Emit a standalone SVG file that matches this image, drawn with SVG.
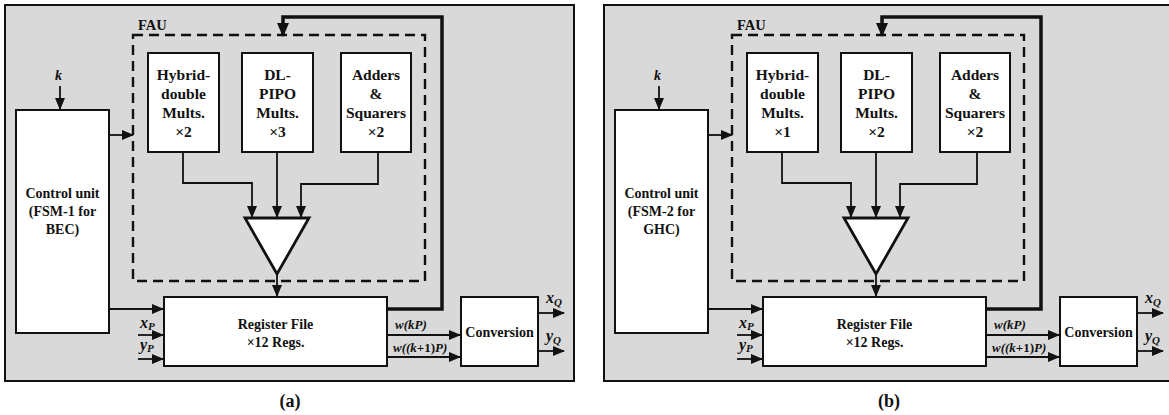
<svg xmlns="http://www.w3.org/2000/svg" width="1169" height="415" viewBox="0 0 1169 415">
<style>
.bg{fill:#d9d9d9;stroke:#111;stroke-width:2}
.box{fill:#fff;stroke:#111;stroke-width:2}
.fau{fill:none;stroke:#111;stroke-width:2.4;stroke-dasharray:10 6}
.ln{fill:none;stroke:#111;stroke-width:1.8}
.thick{fill:none;stroke:#111;stroke-width:3.5}
.t{font-family:"Liberation Serif","Times New Roman",serif;font-weight:bold;fill:#111}
.bl{font-size:15.5px;text-anchor:middle}
.cl{font-size:14px;text-anchor:middle}
.it{font-style:italic}
</style>
<defs>
<marker id="ah" markerUnits="userSpaceOnUse" markerWidth="12" markerHeight="10" refX="11" refY="5" orient="auto">
<path d="M0,0 L12,5 L0,10 z" fill="#111"/>
</marker>
<marker id="ahb" markerUnits="userSpaceOnUse" markerWidth="14" markerHeight="12" refX="13" refY="6" orient="auto">
<path d="M0,0 L14,6 L0,12 z" fill="#111"/>
</marker>
</defs>

<g id="panel-a">
<rect id="a-frame" class="bg" x="5" y="5" width="569" height="376"/>
<g id="a-fau"><rect class="fau" x="133" y="35" width="292" height="246"/><text class="t" x="138" y="30" font-size="14.5">FAU</text></g>
<g id="a-hybrid"><rect class="box" x="148" y="53" width="71" height="99"/>
<text class="t bl" x="183.5" y="80">Hybrid-</text><text class="t bl" x="183.5" y="99">double</text><text class="t bl" x="183.5" y="118">Mults.</text><text class="t bl" x="183.5" y="137">×2</text></g>
<g id="a-dlpipo"><rect class="box" x="242" y="53" width="71" height="99"/>
<text class="t bl" x="277.5" y="80">DL-</text><text class="t bl" x="277.5" y="99">PIPO</text><text class="t bl" x="277.5" y="118">Mults.</text><text class="t bl" x="277.5" y="137">×3</text></g>
<g id="a-adders"><rect class="box" x="341" y="53" width="70" height="99"/>
<text class="t bl" x="376" y="80">Adders</text><text class="t bl" x="376" y="99">&amp;</text><text class="t bl" x="376" y="118">Squarers</text><text class="t bl" x="376" y="137">×2</text></g>
<g id="a-mux"><polygon points="245,218 309,218 277,274" fill="#fff" stroke="#111" stroke-width="2.8" stroke-linejoin="miter"/></g>
<g id="a-control"><rect class="box" x="16" y="110" width="93" height="223"/>
<text class="t cl" x="62.5" y="198">Control unit</text><text class="t cl" x="62.5" y="216">(FSM-1 for</text><text class="t cl" x="62.5" y="234">BEC)</text></g>
<g id="a-regfile"><rect class="box" x="164" y="297" width="223" height="69"/>
<text class="t cl" x="275.5" y="329" font-size="13.5">Register File</text><text class="t cl" x="275.5" y="347" font-size="13.5">×12 Regs.</text></g>
<g id="a-conv"><rect class="box" x="461" y="297" width="77" height="69"/>
<text class="t cl" x="499.5" y="337" font-size="13.5">Conversion</text></g>
<g id="a-connectors">
<path class="ln" d="M60,86 V109" marker-end="url(#ah)"/>
<path class="ln" d="M109,135 H133" marker-end="url(#ah)"/>
<path class="ln" d="M183,152 V183 H252 V217" marker-end="url(#ah)"/>
<path class="ln" d="M277,152 V217" marker-end="url(#ah)"/>
<path class="ln" d="M378,152 V184 H301 V217" marker-end="url(#ah)"/>
<path class="ln" d="M277,274 V296" marker-end="url(#ah)"/>
<path class="ln" d="M109,309 H163" marker-end="url(#ah)"/>
<path class="ln" d="M138,335 H163" marker-end="url(#ah)"/>
<path class="ln" d="M138,359 H163" marker-end="url(#ah)"/>
<path class="ln" d="M387,335 H460" marker-end="url(#ah)"/>
<path class="ln" d="M387,357 H460" marker-end="url(#ah)"/>
<path class="ln" d="M538,313 H564" marker-end="url(#ah)"/>
<path class="ln" d="M538,351 H564" marker-end="url(#ah)"/>
<path class="thick" d="M387,309 H442 V17 H283 V36" marker-end="url(#ahb)"/>
</g>
<g id="a-labels">
<text class="t it" x="55" y="80" font-size="14">k</text>
<text class="t it" x="140" y="328" font-size="16">x<tspan font-size="11" dy="2">P</tspan></text>
<text class="t it" x="140" y="350" font-size="16">y<tspan font-size="11" dy="2">P</tspan></text>
<text class="t it" x="395" y="329" font-size="13">w(kP)</text>
<text class="t it" x="393" y="352" font-size="13">w((k<tspan font-style="normal">+1)</tspan>P)</text>
<text class="t it" x="546" y="303" font-size="16">x<tspan font-size="11" dy="3">Q</tspan></text>
<text class="t it" x="546" y="341" font-size="16">y<tspan font-size="11" dy="3">Q</tspan></text>
<text class="t" x="290" y="407" font-size="18" text-anchor="middle">(a)</text>
</g>
</g>

<g id="panel-b" transform="translate(599,0)">
<rect id="b-frame" class="bg" x="5" y="5" width="600" height="376"/>
<g id="b-fau"><rect class="fau" x="133" y="35" width="292" height="246"/><text class="t" x="138" y="30" font-size="14.5">FAU</text></g>
<g id="b-hybrid"><rect class="box" x="148" y="53" width="71" height="99"/>
<text class="t bl" x="183.5" y="80">Hybrid-</text><text class="t bl" x="183.5" y="99">double</text><text class="t bl" x="183.5" y="118">Mults.</text><text class="t bl" x="183.5" y="137">×1</text></g>
<g id="b-dlpipo"><rect class="box" x="242" y="53" width="71" height="99"/>
<text class="t bl" x="277.5" y="80">DL-</text><text class="t bl" x="277.5" y="99">PIPO</text><text class="t bl" x="277.5" y="118">Mults.</text><text class="t bl" x="277.5" y="137">×2</text></g>
<g id="b-adders"><rect class="box" x="341" y="53" width="70" height="99"/>
<text class="t bl" x="376" y="80">Adders</text><text class="t bl" x="376" y="99">&amp;</text><text class="t bl" x="376" y="118">Squarers</text><text class="t bl" x="376" y="137">×2</text></g>
<g id="b-mux"><polygon points="245,218 309,218 277,274" fill="#fff" stroke="#111" stroke-width="2.8" stroke-linejoin="miter"/></g>
<g id="b-control"><rect class="box" x="16" y="110" width="93" height="223"/>
<text class="t cl" x="62.5" y="198">Control unit</text><text class="t cl" x="62.5" y="216">(FSM-2 for</text><text class="t cl" x="62.5" y="234">GHC)</text></g>
<g id="b-regfile"><rect class="box" x="164" y="297" width="223" height="69"/>
<text class="t cl" x="275.5" y="329" font-size="13.5">Register File</text><text class="t cl" x="275.5" y="347" font-size="13.5">×12 Regs.</text></g>
<g id="b-conv"><rect class="box" x="461" y="297" width="77" height="69"/>
<text class="t cl" x="499.5" y="337" font-size="13.5">Conversion</text></g>
<g id="b-connectors">
<path class="ln" d="M60,86 V109" marker-end="url(#ah)"/>
<path class="ln" d="M109,135 H133" marker-end="url(#ah)"/>
<path class="ln" d="M183,152 V183 H252 V217" marker-end="url(#ah)"/>
<path class="ln" d="M277,152 V217" marker-end="url(#ah)"/>
<path class="ln" d="M378,152 V184 H301 V217" marker-end="url(#ah)"/>
<path class="ln" d="M277,274 V296" marker-end="url(#ah)"/>
<path class="ln" d="M109,309 H163" marker-end="url(#ah)"/>
<path class="ln" d="M138,335 H163" marker-end="url(#ah)"/>
<path class="ln" d="M138,359 H163" marker-end="url(#ah)"/>
<path class="ln" d="M387,335 H460" marker-end="url(#ah)"/>
<path class="ln" d="M387,357 H460" marker-end="url(#ah)"/>
<path class="ln" d="M538,313 H564" marker-end="url(#ah)"/>
<path class="ln" d="M538,351 H564" marker-end="url(#ah)"/>
<path class="thick" d="M387,309 H442 V17 H283 V36" marker-end="url(#ahb)"/>
</g>
<g id="b-labels">
<text class="t it" x="55" y="80" font-size="14">k</text>
<text class="t it" x="140" y="328" font-size="16">x<tspan font-size="11" dy="2">P</tspan></text>
<text class="t it" x="140" y="350" font-size="16">y<tspan font-size="11" dy="2">P</tspan></text>
<text class="t it" x="395" y="329" font-size="13">w(kP)</text>
<text class="t it" x="393" y="352" font-size="13">w((k<tspan font-style="normal">+1)</tspan>P)</text>
<text class="t it" x="546" y="303" font-size="16">x<tspan font-size="11" dy="3">Q</tspan></text>
<text class="t it" x="546" y="341" font-size="16">y<tspan font-size="11" dy="3">Q</tspan></text>
<text class="t" x="290" y="407" font-size="18" text-anchor="middle">(b)</text>
</g>
</g>
</svg>
